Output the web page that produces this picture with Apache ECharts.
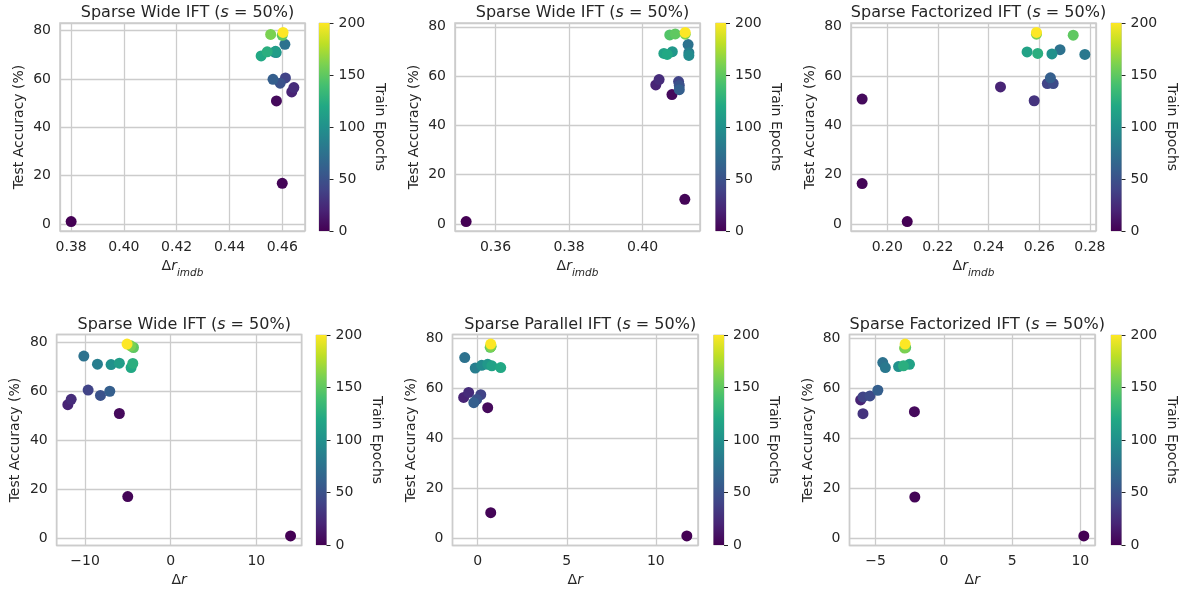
<!DOCTYPE html>
<html><head><meta charset="utf-8">
<script src="https://cdn.jsdelivr.net/npm/echarts@6/dist/echarts.min.js"></script>
<style>html,body{margin:0;padding:0;background:#fff}#c{width:1181px;height:591px}</style>
</head><body><div id="c"></div>
<script>
// ---------- data ----------
const titles = ['Sparse Wide IFT', 'Sparse Wide IFT', 'Sparse Factorized IFT',
                'Sparse Wide IFT', 'Sparse Parallel IFT', 'Sparse Factorized IFT'];
const xNames = ['imdb', 'imdb', 'imdb', '', '', ''];
const xSteps = [0.02, 0.02, 0.02, 10, 5, 5];
const xDecimals = [2, 2, 2, 0, 0, 0];
const cbarTicks = [0, 50, 100, 150, 200];

// panel 1: Sparse Wide IFT vs delta r_imdb
const p1Epochs = [0, 2, 5, 20, 25, 40, 50, 60, 75, 85, 100, 110, 120, 125, 150, 160, 200];
const p1X = [0.380, 0.4600, 0.4578, 0.4636, 0.4644, 0.4612, 0.4592, 0.4565, 0.4610, 0.4571, 0.4577, 0.4575, 0.4520, 0.4543, 0.4600, 0.4556, 0.4603];
const p1Y = [1.0, 16.8, 50.9, 54.6, 56.4, 60.4, 58.2, 59.8, 74.3, 71.1, 70.9, 71.4, 69.5, 71.2, 78.0, 78.4, 79.2];

// panel 2: (parallel data) vs delta r_imdb
const p2Epochs = [0, 2, 5, 20, 25, 40, 50, 60, 75, 85, 95, 105, 115, 120, 145, 150, 160, 200];
const p2X = [0.352, 0.4115, 0.4080, 0.4036, 0.4045, 0.4098, 0.4100, 0.4100, 0.4124, 0.4126, 0.4126, 0.4081, 0.4058, 0.4067, 0.4074, 0.4089, 0.4116, 0.4116];
const p2Y = [1.0, 10.0, 52.5, 56.4, 58.6, 57.8, 56.2, 54.5, 72.8, 69.5, 68.4, 69.9, 69.2, 68.8, 76.7, 77.1, 77.0, 77.7];

// panel 3: Sparse Factorized IFT vs delta r_imdb
const p3Epochs = [0, 2, 5, 20, 30, 40, 45, 60, 75, 80, 100, 115, 125, 150, 160, 200];
const p3X = [0.2079, 0.1901, 0.1901, 0.2447, 0.2580, 0.2632, 0.2655, 0.2644, 0.2682, 0.2780, 0.2650, 0.2552, 0.2594, 0.2734, 0.2589, 0.2589];
const p3Y = [1.0, 16.4, 50.7, 55.6, 50.0, 57.0, 57.0, 59.3, 70.7, 68.8, 69.0, 69.8, 69.2, 76.6, 77.0, 77.7];

// panel 4: Sparse Wide IFT vs delta r
const p4Epochs = [0, 2, 5, 20, 25, 40, 50, 60, 75, 85, 100, 110, 120, 125, 150, 160, 200];
const p4X = [14.0, -5.02, -6.0, -12.02, -11.63, -9.65, -8.21, -7.12, -10.15, -8.56, -6.97, -6.0, -4.63, -4.43, -4.35, -4.67, -5.1];
const p4Y = [0.8, 16.9, 50.9, 54.5, 56.7, 60.5, 58.3, 60.0, 74.4, 71.1, 70.9, 71.5, 69.7, 71.4, 77.9, 78.6, 79.3];

// panel 5: Sparse Parallel IFT vs delta r
const p5Epochs = [0, 2, 5, 20, 25, 40, 50, 60, 75, 85, 95, 105, 115, 120, 145, 150, 160, 200];
const p5X = [11.74, 0.73, 0.56, -0.79, -0.51, 0.17, -0.06, -0.22, -0.73, -0.14, 0.22, 0.56, 0.79, 1.29, 0.70, 0.75, 0.73, 0.73];
const p5Y = [0.8, 10.1, 52.2, 56.3, 58.3, 57.4, 55.5, 54.2, 72.3, 68.1, 69.2, 69.6, 69.0, 68.3, 76.4, 76.8, 76.6, 77.7];

// panel 6: Sparse Factorized IFT vs delta r
const p6Epochs = [0, 2, 5, 20, 30, 40, 45, 60, 75, 80, 100, 115, 125, 150, 160, 200];
const p6X = [10.26, -2.13, -2.16, -6.10, -5.93, -5.93, -5.42, -4.84, -4.48, -4.29, -3.32, -2.52, -2.96, -2.80, -2.88, -2.84];
const p6Y = [0.8, 16.4, 50.6, 55.3, 49.8, 56.5, 56.9, 59.2, 70.3, 68.3, 68.7, 69.6, 69.0, 76.3, 76.1, 77.7];

// ---------- layout & style ----------
const panels = [
  {x: p1X, y: p1Y, e: p1Epochs}, {x: p2X, y: p2Y, e: p2Epochs}, {x: p3X, y: p3Y, e: p3Epochs},
  {x: p4X, y: p4Y, e: p4Epochs}, {x: p5X, y: p5Y, e: p5Epochs}, {x: p6X, y: p6Y, e: p6Epochs}
];
const plotBoxes = [
  {l: 60, t: 23, w: 245, h: 208}, {l: 455, t: 23, w: 245, h: 208}, {l: 851, t: 23, w: 245, h: 208},
  {l: 56.7, t: 334.5, w: 245, h: 211}, {l: 452.5, t: 334.5, w: 245.5, h: 211}, {l: 849.5, t: 334.5, w: 245.5, h: 211}
];
const cbarBoxes = [
  {l: 319, t: 23, w: 10.5, h: 208}, {l: 715.5, t: 23, w: 10.5, h: 208}, {l: 1111, t: 23, w: 10.5, h: 208},
  {l: 316, t: 335, w: 10.5, h: 210}, {l: 713.5, t: 335, w: 10.5, h: 210}, {l: 1111, t: 335, w: 10.5, h: 210}
];
const FONT = 'DejaVu Sans';
const TXT = '#262626';
const GRID = '#cccccc';
const FS = 14;
const viridis = ['#440154','#482475','#414487','#355f8d','#2a788e','#21918c','#22a884','#44bf70','#7ad151','#bddf26','#fde725'];

function fmt(step, dec) {
  return function (v) {
    const r = v / step;
    if (Math.abs(r - Math.round(r)) > 1e-6) return '';
    if (Math.abs(v) < 1e-9) v = 0;
    return v.toFixed(dec).replace('-', '\u2212');
  };
}
const padMin = v => v.min - 0.05 * (v.max - v.min);
const padMax = v => v.max + 0.05 * (v.max - v.min);

const grids = [], xAxes = [], yAxes = [], series = [], titleList = [];
const baseText = {fontFamily: FONT, color: TXT, fontWeight: 'normal'};

panels.forEach((p, i) => {
  const b = plotBoxes[i];
  grids.push({left: b.l, top: b.t, width: b.w, height: b.h, show: true, borderColor: GRID, borderWidth: 1.6,
              containLabel: false, outerBoundsMode: 'none'});
  const xName = xNames[i] ? '{n|\u0394}{i|r}{s|' + xNames[i] + '}' : '{n|\u0394}{i|r}';
  xAxes.push({
    type: 'value', gridIndex: i, min: padMin, max: padMax, minInterval: xSteps[i], maxInterval: xSteps[i],
    axisLine: {show: false}, axisTick: {show: false},
    axisLabel: {formatter: fmt(xSteps[i], xDecimals[i]), fontSize: FS, margin: 9, ...baseText},
    splitLine: {show: true, lineStyle: {color: GRID, width: 1.3}},
    name: xName, nameLocation: 'middle', nameGap: 28,
    nameTextStyle: {rich: {
      n: {fontSize: FS, ...baseText, verticalAlign: 'top', lineHeight: 18},
      i: {fontSize: FS, fontStyle: 'italic', ...baseText, verticalAlign: 'top', lineHeight: 18},
      s: {fontSize: 10.5, fontStyle: 'italic', ...baseText, verticalAlign: 'top', lineHeight: 12, padding: [9, 0, 0, 0]}
    }}
  });
  yAxes.push({
    type: 'value', gridIndex: i, min: padMin, max: padMax, minInterval: 20, maxInterval: 20,
    axisLine: {show: false}, axisTick: {show: false},
    axisLabel: {formatter: fmt(20, 0), fontSize: FS, margin: 9, ...baseText},
    splitLine: {show: true, lineStyle: {color: GRID, width: 1.3}},
    name: 'Test Accuracy (%)', nameLocation: 'middle', nameGap: 34,
    nameTextStyle: {fontSize: FS, ...baseText}
  });
  series.push({
    type: 'scatter', xAxisIndex: i, yAxisIndex: i, symbolSize: 11,
    data: p.x.map((xv, k) => [xv, p.y[k], p.e[k]]),
    itemStyle: {opacity: 1}, emphasis: {disabled: true}, silent: true
  });
  titleList.push({
    text: '{n|' + titles[i] + ' (}{i|s}{n| = 50%)}',
    left: b.l + b.w / 2, textAlign: 'center', top: b.t - 23,
    textStyle: {fontWeight: 'normal', rich: {
      n: {fontSize: 16, ...baseText},
      i: {fontSize: 16, ...baseText, fontStyle: 'italic'}
    }}
  });
});

// colorbars
const gradient = {type: 'linear', x: 0, y: 1, x2: 0, y2: 0,
  colorStops: viridis.map((c, k) => ({offset: k / (viridis.length - 1), color: c}))};
cbarBoxes.forEach((b, j) => {
  const gi = panels.length + j;
  grids.push({left: b.l, top: b.t, width: b.w, height: b.h, show: true, borderColor: GRID, borderWidth: 1,
              containLabel: false, outerBoundsMode: 'none'});
  xAxes.push({type: 'category', gridIndex: gi, data: [''], show: false, boundaryGap: true});
  yAxes.push({
    type: 'value', gridIndex: gi, position: 'right', min: cbarTicks[0], max: cbarTicks[cbarTicks.length - 1],
    interval: cbarTicks[1] - cbarTicks[0],
    axisLine: {show: false}, axisTick: {show: true, length: 4, lineStyle: {color: TXT, width: 1}},
    axisLabel: {fontSize: FS, margin: 9, ...baseText},
    splitLine: {show: false},
    name: 'Train Epochs', nameLocation: 'middle', nameRotate: -90, nameGap: 43,
    nameTextStyle: {fontSize: FS, ...baseText}
  });
  series.push({
    type: 'bar', xAxisIndex: gi, yAxisIndex: gi, data: [cbarTicks[cbarTicks.length - 1]],
    barWidth: '100%', itemStyle: {color: gradient}, silent: true, emphasis: {disabled: true}
  });
});

const chart = echarts.init(document.getElementById('c'), null, {renderer: 'canvas'});
chart.setOption({
  animation: false,
  backgroundColor: '#ffffff',
  title: titleList,
  grid: grids, xAxis: xAxes, yAxis: yAxes,
  visualMap: {type: 'continuous', show: false, seriesIndex: [0, 1, 2, 3, 4, 5], dimension: 2,
              min: 0, max: 200, inRange: {color: viridis}},
  series: series
});
</script></body></html>
